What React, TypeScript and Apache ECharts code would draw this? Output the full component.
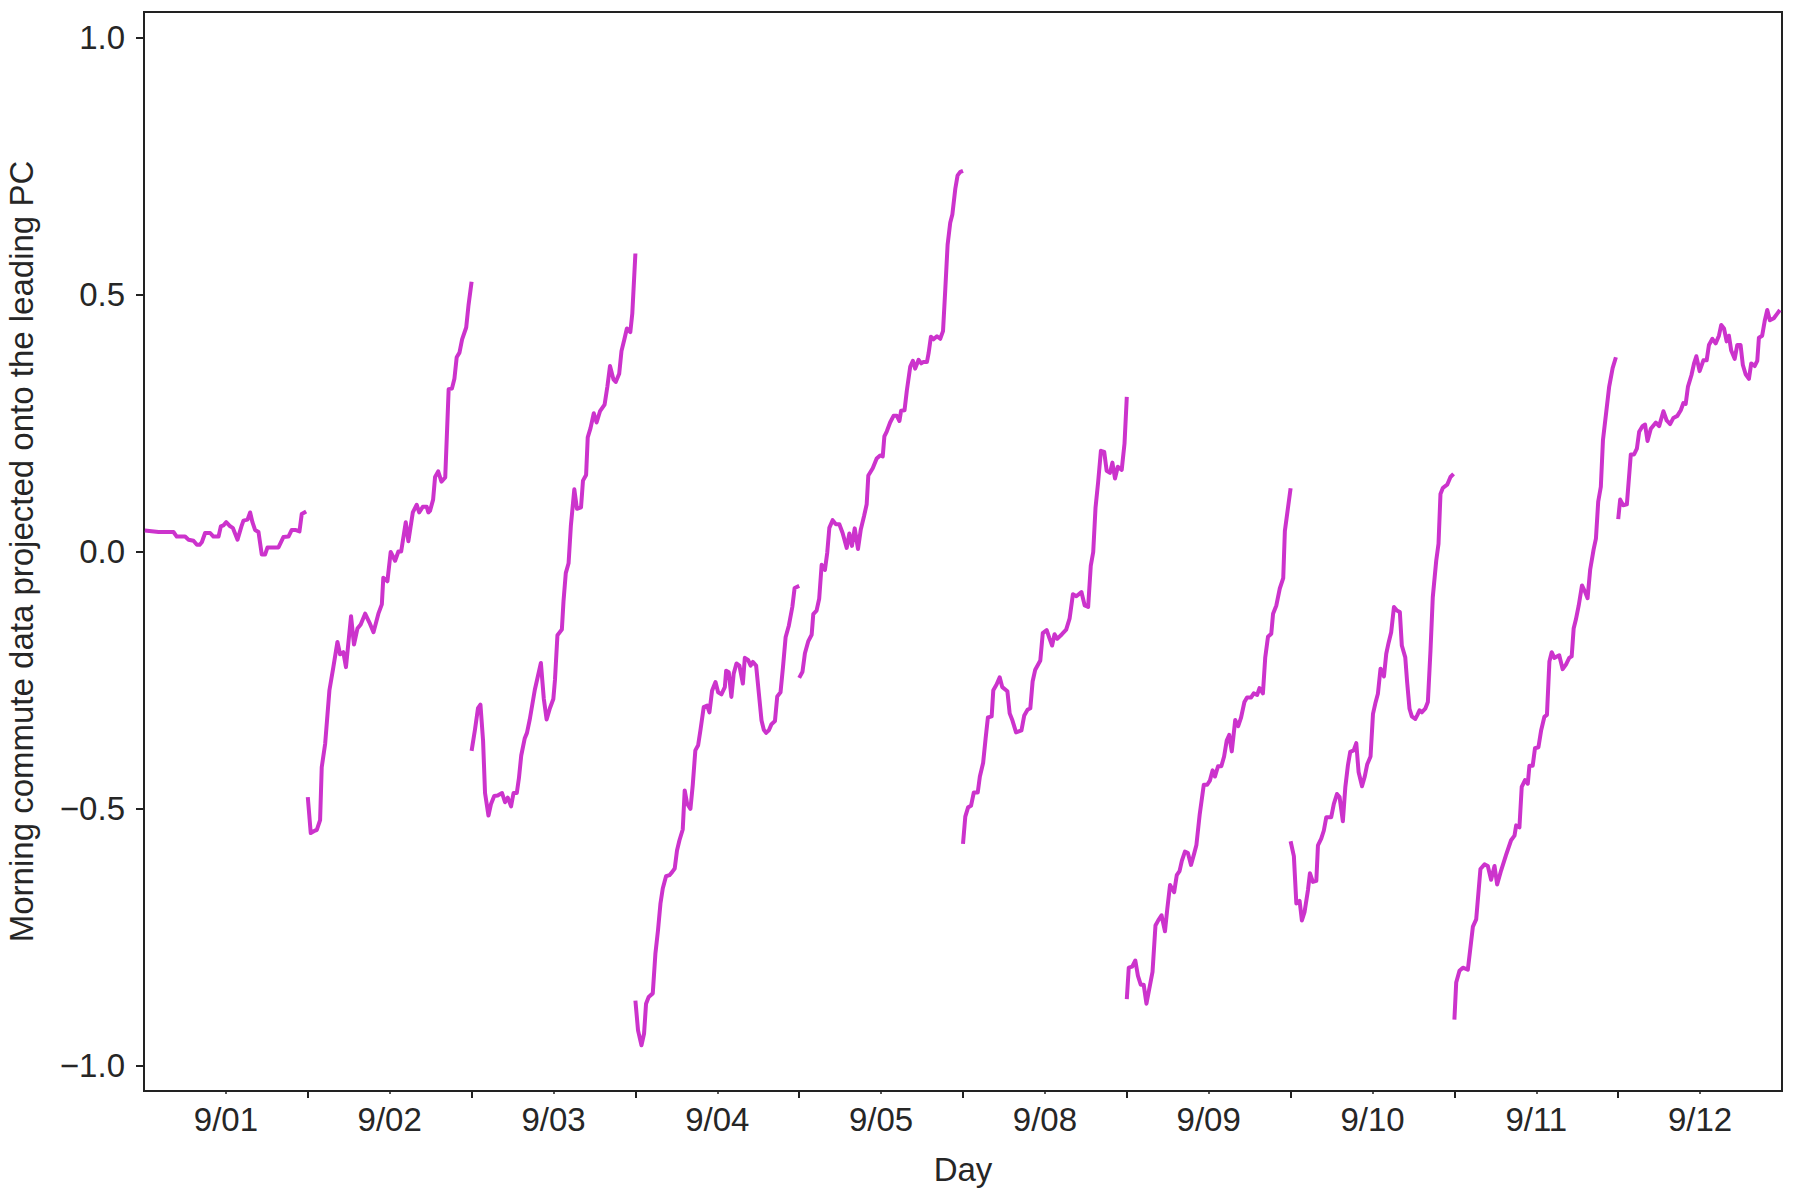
import { useEffect, useRef } from "react";
import * as echarts from "echarts";

const dayLabels = ["9/01", "9/02", "9/03", "9/04", "9/05", "9/08", "9/09", "9/10", "9/11", "9/12"];
const yTicks = [-1, -0.5, 0, 0.5, 1];
const dayBoundaries = [1, 2, 3, 4, 5, 6, 7, 8, 9];
const dayCenters = [0.5, 1.5, 2.5, 3.5, 4.5, 5.5, 6.5, 7.5, 8.5, 9.5];

// [fraction of the day, value]
const day0901 = [
  [0.005, 0.041], [0.089, 0.038], [0.18, 0.038], [0.2, 0.029], [0.251, 0.029], [0.272, 0.023],
  [0.302, 0.021], [0.323, 0.013], [0.339, 0.013], [0.353, 0.018], [0.373, 0.036], [0.404, 0.036],
  [0.424, 0.029], [0.455, 0.029], [0.469, 0.049], [0.485, 0.051], [0.502, 0.057], [0.526, 0.049],
  [0.542, 0.046], [0.571, 0.023], [0.597, 0.051], [0.607, 0.06], [0.632, 0.062], [0.648, 0.076],
  [0.662, 0.057], [0.678, 0.042], [0.699, 0.038], [0.719, -0.006], [0.739, -0.006], [0.754, 0.008],
  [0.821, 0.008], [0.851, 0.028], [0.882, 0.029], [0.902, 0.042], [0.923, 0.042], [0.949, 0.039],
  [0.963, 0.073], [0.99, 0.078],
];
const day0902 = [
  [0.0, -0.478], [0.018, -0.548], [0.045, -0.543], [0.055, -0.542], [0.075, -0.523], [0.085, -0.42],
  [0.106, -0.374], [0.132, -0.27], [0.156, -0.225], [0.181, -0.176], [0.197, -0.2], [0.217, -0.196],
  [0.233, -0.225], [0.264, -0.126], [0.282, -0.181], [0.303, -0.15], [0.323, -0.142], [0.35, -0.121],
  [0.38, -0.141], [0.401, -0.157], [0.431, -0.121], [0.452, -0.103], [0.461, -0.051], [0.486, -0.058],
  [0.506, -0.001], [0.533, -0.018], [0.553, 0.0], [0.57, 0.0], [0.598, 0.057], [0.614, 0.02],
  [0.641, 0.076], [0.665, 0.091], [0.68, 0.076], [0.702, 0.087], [0.726, 0.087], [0.736, 0.076],
  [0.746, 0.079], [0.765, 0.101], [0.777, 0.145], [0.796, 0.156], [0.816, 0.136], [0.839, 0.144],
  [0.86, 0.316], [0.88, 0.317], [0.895, 0.336], [0.909, 0.378], [0.926, 0.387], [0.942, 0.413],
  [0.967, 0.436], [0.981, 0.479], [1.0, 0.525],
];
const day0903 = [
  [0.0, -0.388], [0.021, -0.346], [0.039, -0.305], [0.054, -0.298], [0.07, -0.368], [0.082, -0.47],
  [0.103, -0.514], [0.118, -0.492], [0.138, -0.476], [0.159, -0.475], [0.186, -0.47], [0.204, -0.488],
  [0.221, -0.479], [0.241, -0.496], [0.256, -0.47], [0.276, -0.47], [0.289, -0.441], [0.303, -0.397],
  [0.324, -0.364], [0.338, -0.353], [0.355, -0.327], [0.386, -0.269], [0.423, -0.217], [0.441, -0.287],
  [0.458, -0.327], [0.478, -0.305], [0.499, -0.287], [0.509, -0.25], [0.524, -0.163], [0.551, -0.152],
  [0.561, -0.097], [0.575, -0.042], [0.592, -0.023], [0.606, 0.05], [0.627, 0.121], [0.643, 0.083],
  [0.668, 0.086], [0.68, 0.138], [0.699, 0.149], [0.709, 0.222], [0.726, 0.24], [0.746, 0.269],
  [0.763, 0.251], [0.784, 0.273], [0.812, 0.286], [0.829, 0.321], [0.845, 0.361], [0.866, 0.335],
  [0.88, 0.33], [0.901, 0.346], [0.915, 0.39], [0.932, 0.412], [0.948, 0.434], [0.969, 0.427],
  [0.981, 0.463], [1.0, 0.58],
];
const day0904 = [
  [0.0, -0.874], [0.016, -0.932], [0.037, -0.961], [0.053, -0.938], [0.065, -0.88], [0.081, -0.867],
  [0.106, -0.86], [0.122, -0.783], [0.138, -0.737], [0.153, -0.685], [0.167, -0.656], [0.187, -0.632],
  [0.208, -0.63], [0.224, -0.624], [0.24, -0.617], [0.254, -0.582], [0.269, -0.562], [0.289, -0.541],
  [0.301, -0.465], [0.316, -0.491], [0.336, -0.501], [0.35, -0.455], [0.366, -0.387], [0.383, -0.377],
  [0.397, -0.348], [0.417, -0.303], [0.438, -0.3], [0.452, -0.313], [0.468, -0.271], [0.489, -0.254],
  [0.505, -0.274], [0.525, -0.278], [0.546, -0.264], [0.554, -0.232], [0.57, -0.235], [0.586, -0.283],
  [0.6, -0.238], [0.617, -0.218], [0.635, -0.222], [0.656, -0.257], [0.668, -0.207], [0.688, -0.211],
  [0.703, -0.222], [0.717, -0.215], [0.737, -0.222], [0.754, -0.277], [0.77, -0.329], [0.784, -0.347],
  [0.798, -0.353], [0.815, -0.348], [0.831, -0.336], [0.852, -0.33], [0.866, -0.282], [0.886, -0.274],
  [0.901, -0.225], [0.917, -0.167], [0.937, -0.144], [0.958, -0.108], [0.972, -0.071], [1.0, -0.067],
];
const day0905 = [
  [0.0, -0.246], [0.02, -0.234], [0.035, -0.198], [0.055, -0.175], [0.076, -0.162], [0.086, -0.122],
  [0.106, -0.115], [0.122, -0.092], [0.137, -0.026], [0.157, -0.036], [0.171, -0.003], [0.184, 0.046],
  [0.204, 0.061], [0.224, 0.053], [0.245, 0.053], [0.265, 0.036], [0.29, 0.007], [0.306, 0.035],
  [0.322, 0.011], [0.339, 0.045], [0.359, 0.005], [0.376, 0.043], [0.396, 0.069], [0.412, 0.092],
  [0.422, 0.148], [0.449, 0.162], [0.473, 0.181], [0.494, 0.187], [0.51, 0.185], [0.52, 0.224],
  [0.535, 0.234], [0.555, 0.251], [0.576, 0.264], [0.596, 0.264], [0.612, 0.254], [0.622, 0.274],
  [0.643, 0.275], [0.657, 0.313], [0.678, 0.36], [0.694, 0.371], [0.708, 0.356], [0.729, 0.373],
  [0.745, 0.366], [0.759, 0.369], [0.78, 0.369], [0.79, 0.386], [0.804, 0.418], [0.82, 0.413],
  [0.841, 0.419], [0.861, 0.414], [0.878, 0.429], [0.892, 0.511], [0.906, 0.597], [0.922, 0.64],
  [0.935, 0.656], [0.953, 0.706], [0.967, 0.732], [0.984, 0.739], [1.0, 0.741],
];
const day0908 = [
  [0.0, -0.569], [0.014, -0.516], [0.031, -0.498], [0.049, -0.495], [0.066, -0.469], [0.09, -0.469],
  [0.103, -0.438], [0.123, -0.411], [0.138, -0.364], [0.152, -0.323], [0.175, -0.321], [0.185, -0.27],
  [0.205, -0.259], [0.224, -0.245], [0.24, -0.264], [0.271, -0.272], [0.285, -0.315], [0.302, -0.329],
  [0.324, -0.352], [0.357, -0.348], [0.374, -0.319], [0.394, -0.308], [0.411, -0.305], [0.425, -0.253],
  [0.441, -0.23], [0.472, -0.212], [0.487, -0.159], [0.511, -0.153], [0.528, -0.169], [0.544, -0.183],
  [0.559, -0.161], [0.575, -0.17], [0.604, -0.161], [0.63, -0.152], [0.651, -0.13], [0.671, -0.083],
  [0.692, -0.087], [0.723, -0.079], [0.743, -0.105], [0.764, -0.108], [0.78, -0.028], [0.795, -0.001],
  [0.809, 0.085], [0.825, 0.135], [0.842, 0.196], [0.862, 0.194], [0.877, 0.157], [0.897, 0.153],
  [0.912, 0.173], [0.928, 0.142], [0.945, 0.165], [0.969, 0.159], [0.986, 0.21], [1.0, 0.301],
];
const day0909 = [
  [0.0, -0.871], [0.012, -0.81], [0.033, -0.808], [0.052, -0.796], [0.068, -0.826], [0.085, -0.843],
  [0.103, -0.843], [0.12, -0.88], [0.136, -0.853], [0.157, -0.818], [0.175, -0.728], [0.192, -0.718],
  [0.212, -0.708], [0.233, -0.739], [0.247, -0.696], [0.264, -0.649], [0.289, -0.663], [0.305, -0.63],
  [0.322, -0.622], [0.336, -0.602], [0.355, -0.584], [0.373, -0.587], [0.392, -0.61], [0.412, -0.587],
  [0.425, -0.571], [0.445, -0.512], [0.47, -0.454], [0.491, -0.454], [0.507, -0.446], [0.524, -0.426],
  [0.538, -0.438], [0.557, -0.418], [0.577, -0.418], [0.594, -0.399], [0.61, -0.368], [0.625, -0.357],
  [0.641, -0.389], [0.662, -0.328], [0.68, -0.34], [0.697, -0.324], [0.718, -0.293], [0.734, -0.284],
  [0.759, -0.284], [0.775, -0.276], [0.796, -0.279], [0.81, -0.266], [0.831, -0.276], [0.845, -0.207],
  [0.862, -0.166], [0.882, -0.16], [0.893, -0.121], [0.913, -0.105], [0.934, -0.072], [0.955, -0.052],
  [0.965, 0.04], [1.0, 0.123],
];
const day0910 = [
  [0.0, -0.564], [0.02, -0.593], [0.035, -0.685], [0.055, -0.68], [0.069, -0.718], [0.085, -0.702],
  [0.106, -0.659], [0.118, -0.626], [0.136, -0.643], [0.157, -0.641], [0.167, -0.572], [0.187, -0.559],
  [0.203, -0.543], [0.218, -0.517], [0.248, -0.517], [0.264, -0.491], [0.283, -0.472], [0.299, -0.478],
  [0.319, -0.525], [0.334, -0.459], [0.35, -0.416], [0.364, -0.39], [0.385, -0.387], [0.401, -0.373],
  [0.415, -0.429], [0.436, -0.457], [0.452, -0.439], [0.468, -0.414], [0.488, -0.399], [0.503, -0.316],
  [0.517, -0.296], [0.533, -0.277], [0.549, -0.228], [0.57, -0.243], [0.584, -0.199], [0.598, -0.178],
  [0.614, -0.157], [0.631, -0.108], [0.649, -0.115], [0.667, -0.118], [0.679, -0.183], [0.7, -0.206],
  [0.712, -0.256], [0.726, -0.306], [0.74, -0.321], [0.761, -0.326], [0.773, -0.319], [0.787, -0.309],
  [0.801, -0.313], [0.822, -0.306], [0.838, -0.293], [0.854, -0.193], [0.868, -0.089], [0.889, -0.018],
  [0.903, 0.015], [0.915, 0.112], [0.93, 0.124], [0.956, 0.13], [0.976, 0.145], [0.995, 0.151],
];
const day0911 = [
  [0.0, -0.911], [0.011, -0.839], [0.031, -0.816], [0.052, -0.81], [0.082, -0.814], [0.113, -0.73],
  [0.133, -0.716], [0.159, -0.618], [0.184, -0.609], [0.204, -0.612], [0.224, -0.639], [0.245, -0.612],
  [0.261, -0.648], [0.285, -0.621], [0.316, -0.59], [0.346, -0.562], [0.367, -0.553], [0.377, -0.533],
  [0.397, -0.537], [0.411, -0.458], [0.431, -0.445], [0.448, -0.452], [0.458, -0.417], [0.478, -0.417],
  [0.492, -0.383], [0.513, -0.381], [0.529, -0.349], [0.549, -0.322], [0.565, -0.318], [0.58, -0.214],
  [0.594, -0.196], [0.61, -0.207], [0.64, -0.202], [0.661, -0.229], [0.681, -0.22], [0.701, -0.207],
  [0.716, -0.204], [0.728, -0.15], [0.742, -0.132], [0.759, -0.105], [0.779, -0.066], [0.797, -0.078],
  [0.813, -0.091], [0.829, -0.035], [0.85, 0.004], [0.864, 0.025], [0.878, 0.097], [0.894, 0.126],
  [0.907, 0.217], [0.925, 0.266], [0.945, 0.321], [0.966, 0.357], [0.986, 0.378],
];
const day0912 = [
  [0.0, 0.063], [0.012, 0.101], [0.03, 0.09], [0.053, 0.092], [0.077, 0.189], [0.097, 0.189],
  [0.114, 0.2], [0.128, 0.233], [0.148, 0.244], [0.164, 0.247], [0.179, 0.215], [0.199, 0.239],
  [0.23, 0.251], [0.25, 0.244], [0.276, 0.273], [0.296, 0.255], [0.317, 0.248], [0.337, 0.26],
  [0.361, 0.264], [0.382, 0.275], [0.398, 0.289], [0.412, 0.287], [0.426, 0.321], [0.447, 0.343],
  [0.463, 0.366], [0.477, 0.38], [0.497, 0.351], [0.52, 0.372], [0.54, 0.372], [0.554, 0.402],
  [0.575, 0.414], [0.595, 0.405], [0.615, 0.42], [0.629, 0.441], [0.646, 0.434], [0.662, 0.409],
  [0.676, 0.42], [0.69, 0.391], [0.711, 0.375], [0.727, 0.402], [0.747, 0.402], [0.761, 0.363],
  [0.778, 0.345], [0.798, 0.336], [0.812, 0.366], [0.833, 0.361], [0.849, 0.371], [0.859, 0.416],
  [0.879, 0.42], [0.894, 0.448], [0.91, 0.47], [0.926, 0.45], [0.95, 0.454], [0.971, 0.463],
  [0.987, 0.47],
];

const days = [day0901, day0902, day0903, day0904, day0905, day0908, day0909, day0910, day0911, day0912];

const FONT = "Liberation Sans, Arial, Helvetica, sans-serif";
const TEXT = "#262626";
const LINE = "#cc33cc";
const FS = 33;

export default function App() {
  const ref = useRef<HTMLDivElement>(null);
  useEffect(() => {
    const chart = echarts.init(ref.current!, null, { renderer: "svg" });
    const series = days.map((pts, i) => ({
      type: "line",
      xAxisIndex: 0,
      yAxisIndex: 0,
      data: pts.map(([f, v]) => [i + f, v]),
      showSymbol: false,
      symbol: "none",
      silent: true,
      lineStyle: { color: LINE, width: 4, join: "round", cap: "butt" },
      itemStyle: { color: LINE },
    }));
    chart.setOption({
      animation: false,
      backgroundColor: "#ffffff",
      grid: {
        left: 144,
        top: 12,
        right: 18,
        bottom: 109,
        show: true,
        borderColor: "#222222",
        borderWidth: 2,
        backgroundColor: "transparent",
        containLabel: false,
        outerBoundsMode: "none",
      },
      xAxis: [
        {
          type: "value",
          min: 0,
          max: 10,
          interval: 1,
          position: "bottom",
          axisLine: { show: false, onZero: false },
          splitLine: { show: false },
          axisTick: {
            show: true,
            customValues: dayBoundaries,
            length: 7,
            lineStyle: { color: "#222222", width: 2 },
          },
          axisLabel: {
            show: true,
            customValues: dayCenters,
            formatter: (v: number) => dayLabels[Math.floor(v + 1e-6)],
            margin: 12,
            fontSize: FS,
            color: TEXT,
            fontFamily: FONT,
          },
          name: "Day",
          nameLocation: "middle",
          nameGap: 62,
          nameTextStyle: { fontSize: FS, color: TEXT, fontFamily: FONT },
        },
        {
          type: "value",
          min: 0,
          max: 10,
          position: "bottom",
          offset: 0,
          axisLine: { show: false, onZero: false },
          splitLine: { show: false },
          axisTick: {
            show: true,
            customValues: dayCenters,
            length: 3,
            lineStyle: { color: "#222222", width: 1.5 },
          },
          axisLabel: { show: false },
        },
      ],
      yAxis: {
        type: "value",
        min: -1.05,
        max: 1.05,
        axisLine: { show: false, onZero: false },
        splitLine: { show: false },
        axisTick: {
          show: true,
          customValues: yTicks,
          length: 8,
          lineStyle: { color: "#222222", width: 2 },
        },
        axisLabel: {
          show: true,
          customValues: yTicks,
          formatter: (v: number) => (v < 0 ? "\u2212" : "") + Math.abs(v).toFixed(1),
          margin: 19,
          fontSize: FS,
          color: TEXT,
          fontFamily: FONT,
        },
        name: "Morning commute data projected onto the leading PC",
        nameLocation: "middle",
        nameRotate: 90,
        nameGap: 106,
        nameTextStyle: { fontSize: FS, color: TEXT, fontFamily: FONT },
      },
      series,
    });
    return () => chart.dispose();
  }, []);
  return (
    <div
      ref={ref}
      style={{ position: "fixed", left: 0, top: 0, width: 1800, height: 1200, background: "#ffffff" }}
    />
  );
}
